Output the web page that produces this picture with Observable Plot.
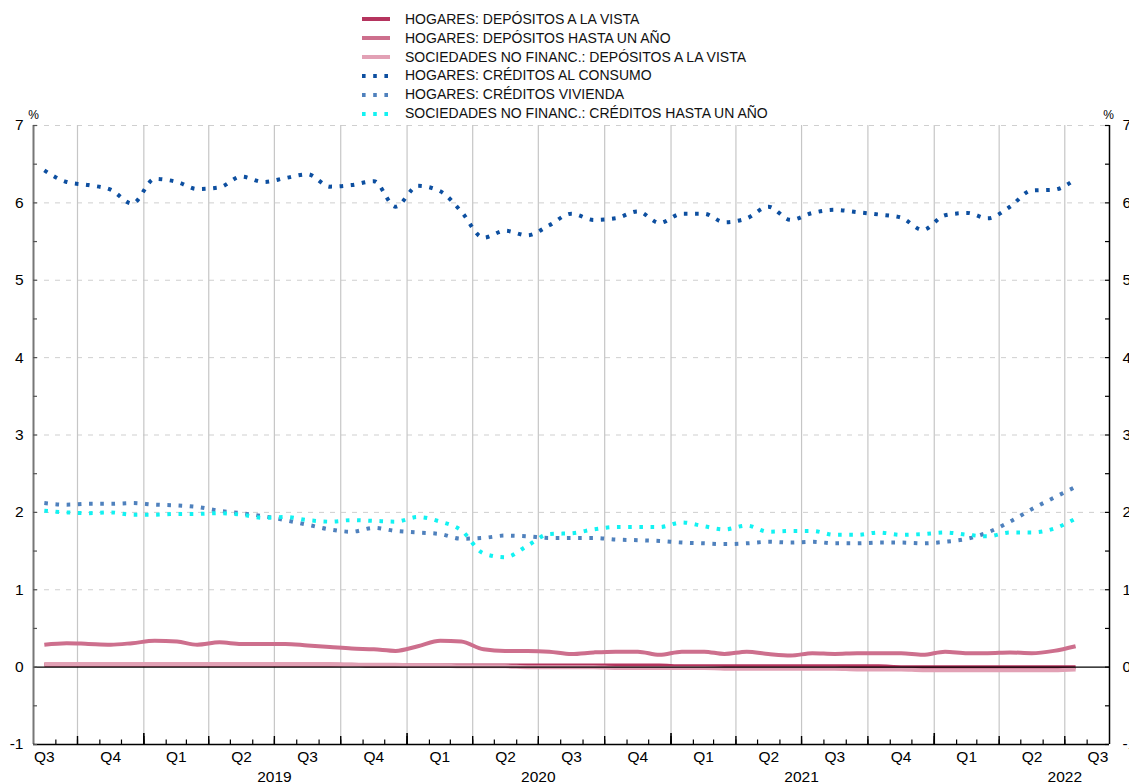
<!DOCTYPE html>
<html><head><meta charset="utf-8">
<script src="https://cdn.jsdelivr.net/npm/d3@7"></script>
<script src="https://cdn.jsdelivr.net/npm/@observablehq/plot@0.6"></script>
<style>
body{margin:0;background:#fff;overflow:hidden;font-family:"Liberation Sans",Arial,Helvetica,sans-serif;}
#wrap{position:relative;width:1129px;height:784px;overflow:hidden;}
#chart{position:absolute;left:0;top:0;}
#legend{position:absolute;left:362px;top:9.8px;font-size:14px;color:#111;line-height:18.9px;}
.item{display:flex;align-items:center;height:18.9px;white-space:nowrap;}
.item svg{margin-right:15px;flex:none;}
</style></head><body>
<div id="wrap"><div id="chart"></div><div id="legend"></div></div>
<script>
// ---- data (monthly, Aug 2018 – Jul 2022) ----
const seriesNames = [
  "HOGARES: DEPÓSITOS A LA VISTA",
  "HOGARES: DEPÓSITOS HASTA UN AÑO",
  "SOCIEDADES NO FINANC.: DEPÓSITOS A LA VISTA",
  "HOGARES: CRÉDITOS AL CONSUMO",
  "HOGARES: CRÉDITOS VIVIENDA",
  "SOCIEDADES NO FINANC.: CRÉDITOS HASTA UN AÑO"
];
const hogVista = [0.03,0.03,0.03,0.03,0.03,0.03,0.03,0.03,0.03,0.03,0.03,0.03,
  0.03,0.03,0.03,0.02,0.02,0.02,0.02,0.02,0.02,0.02,0.02,0.02,
  0.02,0.02,0.02,0.02,0.02,0.01,0.01,0.01,0.01,0.01,0.01,0.01,
  0.01,0.01,0.01,0.00,0.00,0.00,0.00,0.00,0.00,0.00,0.00,0.00];
const hogPlazo = [0.29,0.31,0.30,0.29,0.31,0.34,0.33,0.29,0.32,0.30,0.30,0.30,
  0.28,0.26,0.24,0.23,0.21,0.27,0.34,0.33,0.23,0.21,0.21,0.20,
  0.17,0.19,0.20,0.20,0.16,0.20,0.20,0.17,0.20,0.17,0.15,0.18,
  0.17,0.18,0.18,0.18,0.16,0.20,0.18,0.18,0.19,0.18,0.21,0.27];
const socVista = [0.04,0.04,0.04,0.04,0.04,0.04,0.04,0.04,0.04,0.04,0.04,0.04,
  0.04,0.04,0.03,0.03,0.03,0.02,0.02,0.01,0.01,0.01,0.00,0.00,
  0.00,0.00,-0.01,-0.01,-0.01,-0.01,-0.01,-0.02,-0.02,-0.02,-0.02,-0.02,
  -0.02,-0.03,-0.03,-0.03,-0.04,-0.04,-0.04,-0.04,-0.04,-0.04,-0.04,-0.03];
const hogConsumo = [6.42,6.27,6.23,6.17,5.99,6.31,6.27,6.18,6.20,6.34,6.27,6.32,
  6.37,6.21,6.23,6.28,5.95,6.22,6.15,5.89,5.55,5.64,5.58,5.71,
  5.86,5.78,5.80,5.89,5.74,5.86,5.86,5.75,5.80,5.95,5.78,5.87,
  5.91,5.88,5.85,5.81,5.65,5.84,5.87,5.80,5.95,6.16,6.17,6.31];
const hogVivienda = [2.12,2.10,2.11,2.11,2.12,2.10,2.09,2.07,2.02,1.99,1.95,1.90,
  1.84,1.78,1.75,1.80,1.76,1.74,1.72,1.66,1.67,1.70,1.69,1.67,
  1.67,1.67,1.65,1.64,1.63,1.61,1.60,1.59,1.60,1.62,1.61,1.62,
  1.60,1.60,1.61,1.61,1.60,1.62,1.66,1.74,1.88,2.04,2.19,2.33];
const socCredito = [2.02,2.00,1.99,2.00,1.97,1.97,1.98,1.98,1.99,1.97,1.93,1.94,
  1.90,1.88,1.90,1.89,1.88,1.94,1.88,1.77,1.47,1.42,1.57,1.72,
  1.73,1.78,1.81,1.81,1.81,1.87,1.82,1.78,1.83,1.75,1.76,1.76,
  1.71,1.71,1.74,1.71,1.72,1.74,1.71,1.69,1.74,1.74,1.79,1.92];
const quarterLabels = ["Q1","Q2","Q3","Q4"];
const yearLabels = ["2019","2020","2021","2022"];
const yTickLabels = [-1,0,1,2,3,4,5,6,7];

// ---- styles ----
const seriesStyle = [
  {stroke:"#b5345e", dash:null},
  {stroke:"#cd6f8d", dash:null},
  {stroke:"#e2a1b5", dash:null},
  {stroke:"#0d4fa0", dash:"3.6,7.6"},
  {stroke:"#4f81bd", dash:"3.6,7.6"},
  {stroke:"#12f2f2", dash:"3.6,7.6"}
];

const W=1129, H=784, mL=33, mR=20, mT=125, mB=40;
const plotW = W-mL-mR, plotH = H-mT-mB;
const x0 = new Date(Date.UTC(2018,7,1)), x1 = new Date(Date.UTC(2022,8,1));
const monthsStart = d3.utcMonth.range(x0, new Date(Date.UTC(2022,7,1)));
const dates = monthsStart.map(d => d3.utcDay.offset(d, 15));
const allValues = [hogVista,hogPlazo,socVista,hogConsumo,hogVivienda,socCredito];
const table = allValues.flatMap((vals,si) => vals.map((v,i)=>({date:dates[i], value:v, series:seriesNames[si]})));

const monthTicks = d3.utcMonth.range(d3.utcDay.offset(x0,1), x1);
const quarterTicks = d3.utcMonth.every(3).range(d3.utcDay.offset(x0,1), x1);
const yearTicks = d3.utcYear.range(d3.utcDay.offset(x0,1), x1);
const quarterMids = d3.utcMonth.every(3).range(new Date(Date.UTC(2018,6,1)), x1).map(q => {
  const e = d3.utcMonth.offset(q,3);
  return {date:new Date((+q + +e)/2), label:quarterLabels[q.getUTCMonth()/3]};
});
const yearMids = d3.utcYear.range(new Date(Date.UTC(2019,0,1)), new Date(Date.UTC(2023,0,1)))
  .map((y,i)=>({date:d3.utcMonth.offset(y,6), label:yearLabels[i]}));
const halfTicks = d3.range(-2,15).map(k=>k/2);
const gridY = [1,2,3,4,5,6,7];

const lineMarks = seriesNames.map((name,si)=>Plot.line(table.filter(d=>d.series===name), {
  x:"date", y:"value", stroke:seriesStyle[si].stroke, strokeWidth:4,
  strokeDasharray:seriesStyle[si].dash, strokeLinecap:"butt", curve:"monotone-x"
}));

const chart = Plot.plot({
  width:W, height:H, marginLeft:mL, marginRight:mR, marginTop:mT, marginBottom:mB,
  x:{type:"utc", domain:[x0,x1], axis:null},
  y:{domain:[-1,7], axis:null},
  style:{fontFamily:'"Liberation Sans",Arial,Helvetica,sans-serif', fontSize:"15.5px", color:"#000", background:"transparent", overflow:"visible"},
  marks:[
    Plot.ruleY(gridY, {y:d=>d, stroke:"#cfcfcf", strokeWidth:1, strokeDasharray:"5,6"}),
    Plot.ruleX(quarterTicks, {x:d=>d, stroke:"#c6c6c6", strokeWidth:1.2}),
    ...lineMarks.slice(0,3),
    Plot.ruleY([0], {y:d=>d, stroke:"#000", strokeWidth:1.2}),
    ...lineMarks.slice(3),
    // axes lines
    Plot.ruleX([x0], {x:d=>d, stroke:"#777", strokeWidth:2}),
    Plot.ruleX([x1], {x:d=>d, stroke:"#000", strokeWidth:1.5}),
    Plot.ruleY([-1], {y:d=>d, stroke:"#000", strokeWidth:1.5}),
    // y ticks
    Plot.tickY(halfTicks, {y:d=>d, insetRight:plotW-4, stroke:"#555", strokeWidth:1.2}),
    Plot.tickY(halfTicks, {y:d=>d, insetLeft:plotW-4, stroke:"#000", strokeWidth:1.2}),
    // x ticks
    Plot.tickX(monthTicks, {x:d=>d, insetTop:plotH-4.5, stroke:"#000", strokeWidth:1.2}),
    Plot.tickX(quarterTicks, {x:d=>d, insetTop:plotH-8, stroke:"#000", strokeWidth:1.4}),
    Plot.tickX(yearTicks, {x:d=>d, insetTop:plotH-11, stroke:"#000", strokeWidth:1.6}),
    // labels
    Plot.text(yTickLabels, {y:d=>d, text:d=>String(d), frameAnchor:"left", textAnchor:"end", lineAnchor:"middle", dx:-10, fill:"#000"}),
    Plot.text(yTickLabels, {y:d=>d, text:d=>String(d), frameAnchor:"right", textAnchor:"start", lineAnchor:"middle", dx:13, fill:"#000"}),
    Plot.text(quarterMids, {x:"date", text:"label", frameAnchor:"bottom", textAnchor:"middle", lineAnchor:"middle", dy:13, fill:"#000"}),
    Plot.text(yearMids, {x:"date", text:"label", frameAnchor:"bottom", textAnchor:"middle", lineAnchor:"middle", dy:33, fill:"#000"}),
    Plot.text(["%"], {text:d=>d, frameAnchor:"top-left", textAnchor:"middle", lineAnchor:"middle", dy:-10, fontSize:12, fill:"#000"}),
    Plot.text(["%"], {text:d=>d, frameAnchor:"top-right", textAnchor:"middle", lineAnchor:"middle", dx:-1, dy:-10, fontSize:12, fill:"#000"})
  ]
});
document.getElementById("chart").appendChild(chart);

// legend
const leg = document.getElementById("legend");
seriesNames.forEach((name,si)=>{
  const st = seriesStyle[si];
  const div = document.createElement("div");
  div.className = "item";
  div.innerHTML = `<svg width="28" height="8"><line x1="0" x2="28" y1="4" y2="4" stroke="${st.stroke}" stroke-width="4" ${st.dash?`stroke-dasharray="${st.dash}"`:""}/></svg><span>${name}</span>`;
  leg.appendChild(div);
});
</script>
</body></html>
